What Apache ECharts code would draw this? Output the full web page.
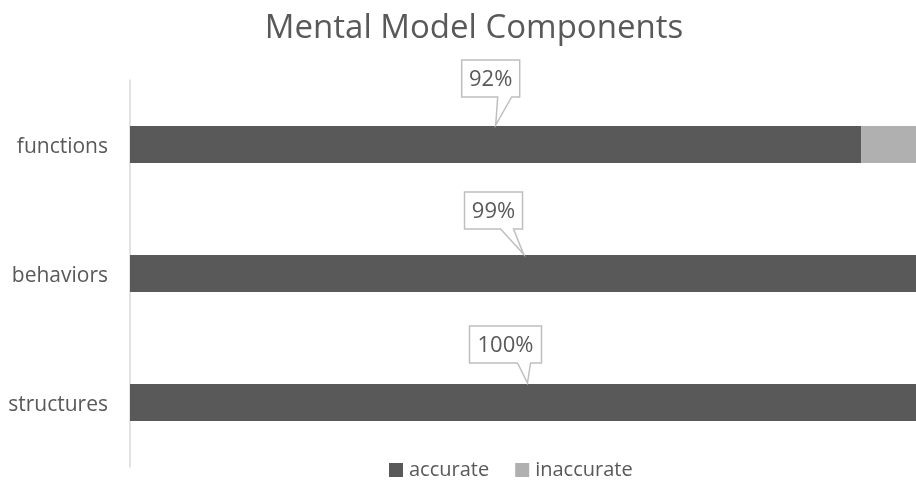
<!DOCTYPE html>
<html>
<head>
<meta charset="utf-8">
<script src="https://cdn.jsdelivr.net/npm/echarts@6/dist/echarts.min.js"></script>
<style>
html,body{margin:0;padding:0;background:#fff;}
#chart{width:916px;height:483px;}
</style>
</head>
<body>
<div id="chart"></div>
<script>
const categories = ['functions', 'behaviors', 'structures'];
const accurate = [92, 99, 100];
const inaccurate = [8, 1, 0];
const calloutLabels = ['92%', '99%', '100%'];

// callout box placement relative to the tail tip (style only)
const calloutStyle = [
  { dx: -34, dy: -28, t0: 2, t1: 16 },
  { dx: -59, dy: -25, t0: -23, t1: -10 },
  { dx: -58, dy: -20, t0: -10, t1: 3 }
];

const BAR_W = 37;
const FONT = '"Open Sans", "Noto Sans", sans-serif';
const TXT = '#595959';

const chart = echarts.init(document.getElementById('chart'));
chart.setOption({
  animation: false,
  backgroundColor: '#fff',
  title: {
    text: 'Mental Model Components',
    left: 469, textAlign: 'center', top: 7,
    textStyle: { fontFamily: FONT, fontSize: 33, fontWeight: 'normal', color: TXT }
  },
  legend: {
    data: ['accurate', 'inaccurate'],
    top: 455, left: 384,
    icon: 'rect', itemWidth: 14, itemHeight: 14, itemGap: 26,
    textStyle: { fontFamily: FONT, fontSize: 20, color: TXT, padding: [0, 0, 0, 1] }
  },
  grid: { left: 130, width: 795, top: 80, height: 387, outerBoundsMode: 'none', containLabel: false },
  xAxis: { type: 'value', min: 0, max: 100, show: false },
  yAxis: {
    type: 'category', data: categories, inverse: true,
    axisLine: { lineStyle: { color: '#d9d9d9', width: 1.5 } },
    axisTick: { show: false },
    axisLabel: {
      margin: 22,
      formatter: v => '{c|' + v + '}',
      rich: { c: { fontFamily: FONT, fontSize: 21, color: TXT, padding: [6, 0, 0, 0] } }
    }
  },
  series: [
    { name: 'accurate', type: 'bar', stack: 'total', barWidth: BAR_W,
      itemStyle: { color: '#595959' }, data: accurate },
    { name: 'inaccurate', type: 'bar', stack: 'total', barWidth: BAR_W,
      itemStyle: { color: '#b0b0b0' }, data: inaccurate },
    { name: 'callouts', type: 'custom', clip: false, z: 10,
      data: accurate.map((v, i) => [v, i]),
      renderItem: function (params, api) {
        const i = params.dataIndex;
        const p = api.coord([api.value(0) / 2, api.value(1)]);
        const tipX = p[0], tipY = p[1] - BAR_W / 2 - 1;
        const s = calloutStyle[i];
        const label = calloutLabels[i];
        const w = 16 + 14 * label.length, h = 37;
        const x0 = tipX + s.dx, y1 = tipY + s.dy, y0 = y1 - h;
        const pts = [[x0, y0], [x0 + w, y0], [x0 + w, y1], [tipX + s.t1, y1],
                     [tipX, tipY], [tipX + s.t0, y1], [x0, y1]];
        return {
          type: 'group',
          children: [
            { type: 'polygon', shape: { points: pts },
              style: { fill: '#fff', stroke: '#bfbfbf', lineWidth: 1.5 } },
            { type: 'text',
              style: { text: label, x: x0 + w / 2, y: y0 + h / 2 + 1,
                       textAlign: 'center', textVerticalAlign: 'middle',
                       font: '22px ' + FONT, fill: TXT } }
          ]
        };
      }
    }
  ]
});
</script>
</body>
</html>
